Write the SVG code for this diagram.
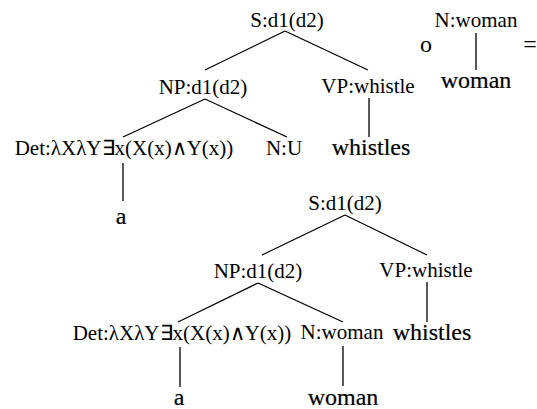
<svg xmlns="http://www.w3.org/2000/svg" width="537" height="409" viewBox="0 0 537 409">
<style>
text{font-family:"Liberation Serif","Times New Roman",serif;fill:#000;text-anchor:middle}
.l{font-size:21px}
.t{font-size:24px;stroke:#000;stroke-width:0.2}
.s{font-size:24px}
#edges line{stroke:#000;stroke-width:1.3}
</style>
<rect width="537" height="409" fill="#fff"/>
<g id="edges">
<line x1="285" y1="31" x2="205" y2="70"/>
<line x1="285" y1="31" x2="368" y2="70"/>
<line x1="205" y1="99" x2="123" y2="137"/>
<line x1="205" y1="99" x2="287" y2="137"/>
<line x1="369" y1="98" x2="369" y2="137"/>
<line x1="123" y1="163" x2="123" y2="201"/>
<line x1="476" y1="33" x2="476" y2="70"/>
<line x1="345" y1="215" x2="262" y2="255"/>
<line x1="345" y1="215" x2="427" y2="255"/>
<line x1="258" y1="283" x2="178" y2="322"/>
<line x1="258" y1="283" x2="343" y2="322"/>
<line x1="427" y1="282" x2="427" y2="322"/>
<line x1="180" y1="347" x2="180" y2="387"/>
<line x1="343" y1="346" x2="343" y2="386"/>
</g>
<g id="s1"><text class="l" x="287" y="27">S:d1(d2)</text></g>
<g id="np1"><text class="l" x="203" y="94">NP:d1(d2)</text></g>
<g id="vp1"><text class="l" x="368" y="93">VP:whistle</text></g>
<g id="det1"><text class="l" x="124" y="155">Det:λXλY∃x(X(x)∧Y(x))</text></g>
<g id="nu1"><text class="l" x="284" y="155">N:U</text></g>
<g id="whistles1"><text class="t" x="371" y="155">whistles</text></g>
<g id="a1"><text class="t" x="121" y="224">a</text></g>
<g id="comp"><text class="s" x="426" y="52">o</text></g>
<g id="nwoman1"><text class="l" x="476" y="27">N:woman</text></g>
<g id="woman1"><text class="t" x="476" y="88">woman</text></g>
<g id="eq"><text class="s" x="530" y="52">=</text></g>
<g id="s2"><text class="l" x="345" y="210">S:d1(d2)</text></g>
<g id="np2"><text class="l" x="258" y="278">NP:d1(d2)</text></g>
<g id="vp2"><text class="l" x="426" y="277">VP:whistle</text></g>
<g id="det2"><text class="l" x="182" y="340">Det:λXλY∃x(X(x)∧Y(x))</text></g>
<g id="nwoman2"><text class="l" x="342" y="339">N:woman</text></g>
<g id="whistles2"><text class="t" x="432" y="340">whistles</text></g>
<g id="a2"><text class="t" x="179" y="405">a</text></g>
<g id="woman2"><text class="t" x="343" y="405">woman</text></g>
</svg>
